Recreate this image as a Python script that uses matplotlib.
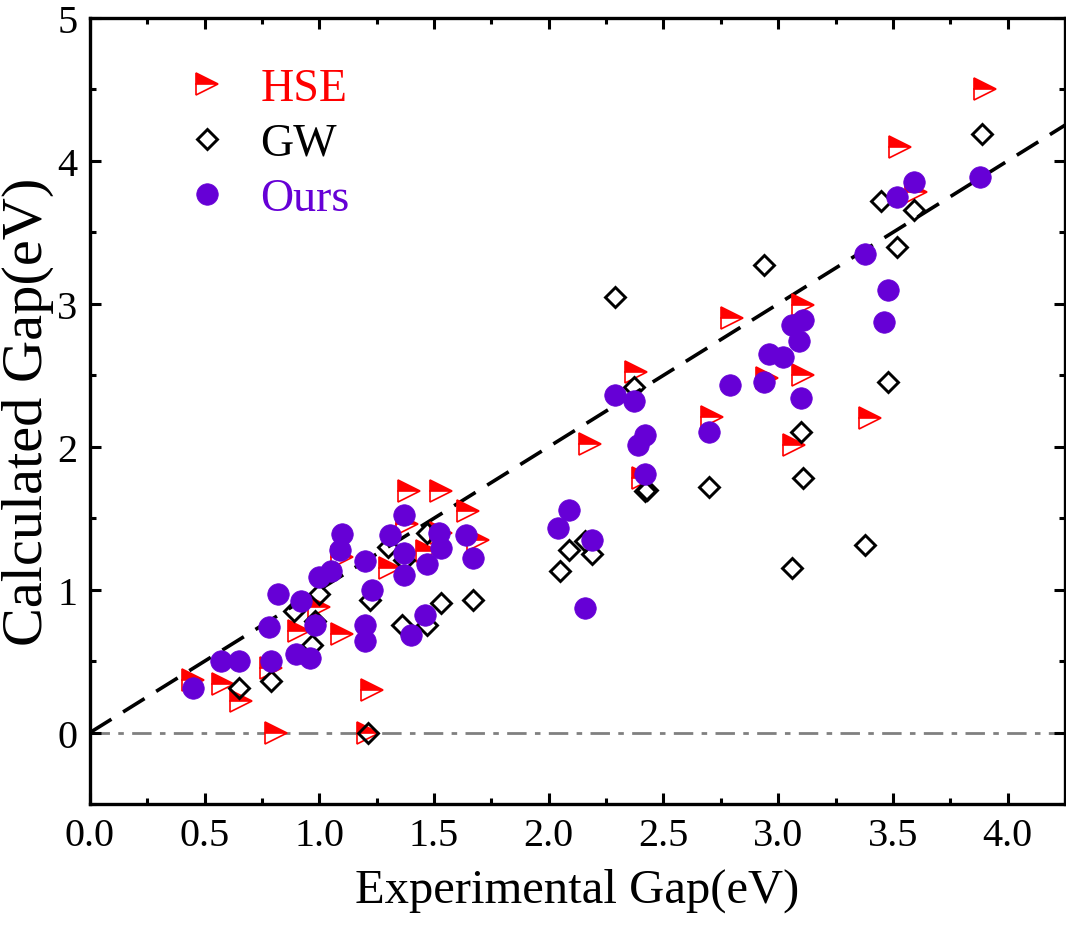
import matplotlib
matplotlib.use("Agg")
import matplotlib.pyplot as plt
from matplotlib.ticker import MultipleLocator

# ---- data ----
hse_x = [0.45, 0.58, 0.66, 0.79, 0.81, 0.91, 1.00, 1.10, 1.23, 1.21, 1.10, 1.31, 1.39, 1.53,
         1.65, 1.69, 1.47, 1.53, 1.38, 2.18, 2.38, 2.80, 2.71, 2.95, 2.41, 3.11, 3.11, 3.40,
         3.07, 3.90, 3.53, 3.60]
hse_y = [0.37, 0.34, 0.22, 0.45, 0.00, 0.71, 0.88, 0.69, 0.30, 0.00, 1.23, 1.15, 1.69, 1.69,
         1.55, 1.35, 1.27, 1.40, 1.46, 2.02, 2.52, 2.90, 2.21, 2.48, 1.78, 2.99, 2.50, 2.20,
         2.01, 4.50, 4.10, 3.78]

gw_x = [0.65, 0.79, 0.89, 0.97, 0.98, 1.00, 1.21, 1.22, 1.30, 1.37, 1.36, 1.47, 1.47, 1.53,
        1.67, 2.05, 2.09, 2.16, 2.19, 2.29, 2.37, 2.42, 2.43, 2.70, 2.94, 3.06, 3.10, 3.11,
        3.38, 3.45, 3.48, 3.52, 3.59, 3.89]
gw_y = [0.31, 0.36, 0.85, 0.61, 0.78, 0.97, 0.00, 0.93, 1.30, 1.21, 0.75, 1.40, 0.75, 0.91,
        0.93, 1.13, 1.28, 1.34, 1.25, 3.05, 2.42, 1.69, 1.70, 1.72, 3.27, 1.15, 2.10, 1.78,
        1.31, 3.72, 2.45, 3.40, 3.66, 4.19]

ours_x = [0.45, 0.57, 0.65, 0.79, 0.78, 0.82, 0.90, 0.96, 0.92, 0.98, 1.00, 1.05, 1.09, 1.10,
          1.20, 1.23, 1.20, 1.20, 1.31, 1.37, 1.37, 1.37, 1.40, 1.46, 1.47, 1.52, 1.53, 1.64,
          1.67, 2.04, 2.09, 2.16, 2.19, 2.29, 2.37, 2.39, 2.42, 2.42, 2.70, 2.79, 2.94, 2.96,
          3.02, 3.06, 3.09, 3.11, 3.10, 3.38, 3.46, 3.48, 3.52, 3.59, 3.88]
ours_y = [0.31, 0.50, 0.50, 0.50, 0.74, 0.97, 0.55, 0.52, 0.92, 0.75, 1.09, 1.13, 1.28, 1.39,
          1.20, 1.00, 0.75, 0.64, 1.38, 1.52, 1.26, 1.10, 0.68, 0.82, 1.18, 1.40, 1.29, 1.38,
          1.22, 1.43, 1.56, 0.87, 1.35, 2.36, 2.32, 2.01, 2.08, 1.81, 2.10, 2.43, 2.45, 2.65,
          2.63, 2.85, 2.74, 2.89, 2.34, 3.35, 2.87, 3.10, 3.75, 3.85, 3.89]

labels = ["HSE", "GW", "Ours"]
x_label = "Experimental Gap(eV)"
y_label = "Calculated Gap(eV)"

# ---- style ----
plt.rcParams['font.family'] = ['Liberation Serif', 'DejaVu Serif']
RED = '#ff0000'
PURPLE = '#6600d6'

fig = plt.figure(figsize=(10.66, 9.28), dpi=100)
ax = fig.add_axes([0.0844, 0.1325, 0.9146, 0.847])

ax.axhline(0, color='#808080', lw=2.0, ls=(0, (7, 3, 2, 3)), zorder=1)
ax.plot([0, 4.25], [0, 4.25], color='black', lw=2.6, ls=(0, (7, 3.8)), zorder=2)

h1, = ax.plot(hse_x, hse_y, ls='none', marker='>', ms=16, fillstyle='top',
              markerfacecolor=RED, markerfacecoloralt='white', markeredgecolor=RED,
              mew=1.2, zorder=3, label=labels[0])
h2, = ax.plot(gw_x, gw_y, ls='none', marker='D', ms=10, markerfacecolor='none',
              markeredgecolor='black', mew=2.1, zorder=4, label=labels[1])
h3, = ax.plot(ours_x, ours_y, ls='none', marker='o', ms=15.5, markerfacecolor=PURPLE,
              markeredgecolor=PURPLE, mew=0.5, zorder=5, label=labels[2])

ax.set_xlim(0, 4.25)
ax.set_ylim(-0.5, 5)
ax.xaxis.set_major_locator(MultipleLocator(0.5))
ax.xaxis.set_minor_locator(MultipleLocator(0.25))
ax.yaxis.set_major_locator(MultipleLocator(1))
ax.yaxis.set_minor_locator(MultipleLocator(0.5))
ax.xaxis.set_major_formatter(plt.FormatStrFormatter('%.1f'))
ax.yaxis.set_major_formatter(plt.FormatStrFormatter('%d'))

ax.tick_params(which='both', direction='in', top=True, right=True, width=2.2)
ax.tick_params(which='major', length=8, labelsize=29, pad=9)
ax.tick_params(which='minor', length=4)
for s in ax.spines.values():
    s.set_linewidth(2.4)

ax.set_xlabel(x_label, fontsize=35, labelpad=10)
ax.set_ylabel(y_label, fontsize=42, labelpad=2)

leg = ax.legend(handles=[h1, h2, h3], loc='upper left', bbox_to_anchor=(0.05, 0.99),
                frameon=False, fontsize=33, handletextpad=0.55, labelspacing=0.28,
                handlelength=1.2, numpoints=1)
for txt, c in zip(leg.get_texts(), [RED, 'black', PURPLE]):
    txt.set_color(c)

fig.savefig('out.png', dpi=100)
